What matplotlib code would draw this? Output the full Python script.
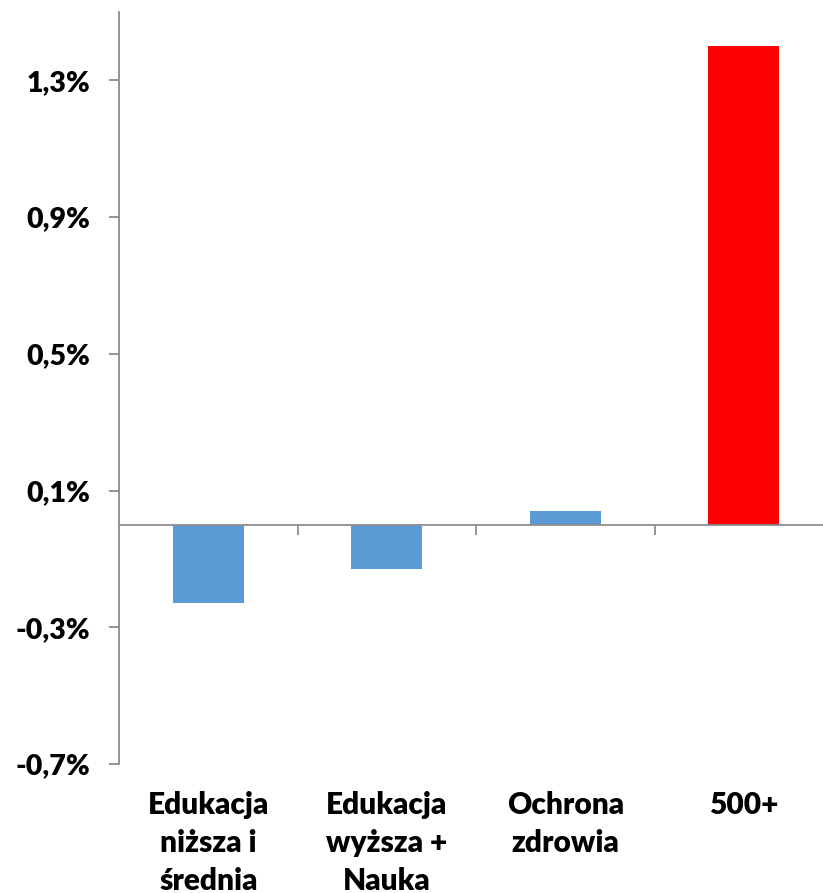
import matplotlib
matplotlib.use("Agg")
import matplotlib.pyplot as plt
import matplotlib.transforms as mtransforms

# values (percent)
categories = ["Edukacja\nniższa i\nśrednia", "Edukacja\nwyższa +\nNauka",
              "Ochrona\nzdrowia", "500+"]
values = [-0.23, -0.13, 0.04, 1.40]
colors = ["#5B9BD5", "#5B9BD5", "#5B9BD5", "#FF0000"]
y_ticks = [-0.7, -0.3, 0.1, 0.5, 0.9, 1.3]

plt.rcParams["font.family"] = ["Lato", "DejaVu Sans"]
plt.rcParams["font.weight"] = "heavy"

fig = plt.figure(figsize=(8.23, 8.93), dpi=100)
ax = fig.add_axes([0.1446, 0.1445, 0.8676, 0.842])

x = range(len(categories))
ax.bar(x, values, width=0.4, color=colors, zorder=2)

ax.set_xlim(-0.5, 3.5)
ax.set_ylim(-0.7, 1.5)
ax.set_yticks(y_ticks)
ax.set_yticklabels([f"{v:.1f}%".replace(".", ",") for v in y_ticks])

for side in ["top", "right"]:
    ax.spines[side].set_visible(False)
ax.spines["bottom"].set_position(("data", 0))
for side in ["left", "bottom"]:
    ax.spines[side].set_color("#8c8c8c")
    ax.spines[side].set_linewidth(1.3)

ax.set_xticks([0.5, 1.5, 2.5, 3.5])
ax.set_xticklabels([])
ax.tick_params(axis="x", direction="out", length=7, width=1.3, color="#8c8c8c")
ax.tick_params(axis="y", direction="out", length=7, width=1.3, color="#8c8c8c",
               pad=14, labelsize=20.5, labelcolor="black")

trans = mtransforms.blended_transform_factory(ax.transData, fig.transFigure)
for xi, label in zip(x, categories):
    ax.text(xi, 0.114, label, transform=trans, ha="center", va="top",
            fontsize=21.5, fontweight="heavy", linespacing=1.42)

fig.savefig("out.png", dpi=100, facecolor="white")
